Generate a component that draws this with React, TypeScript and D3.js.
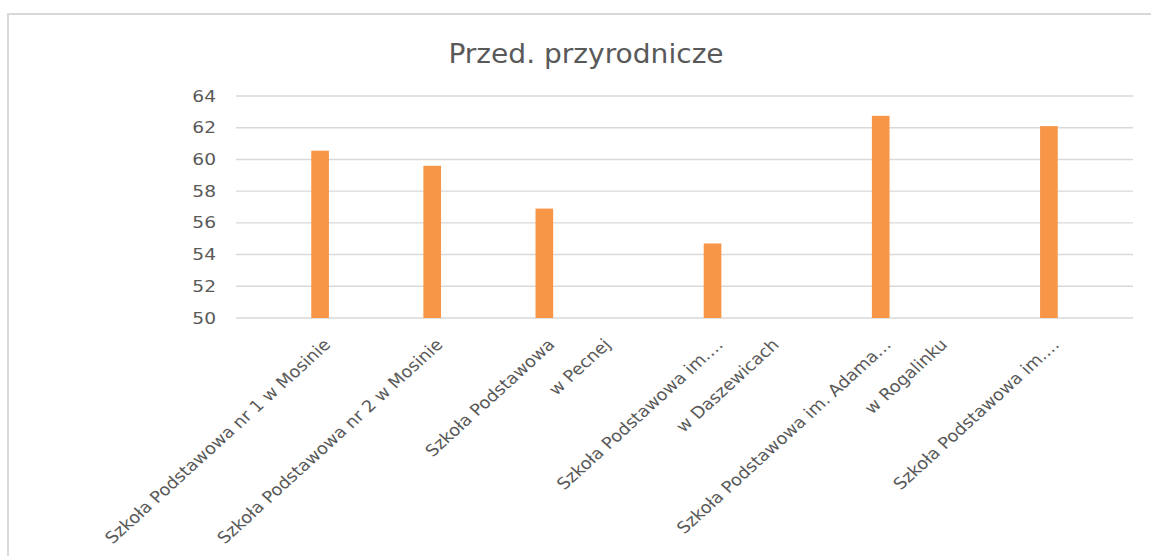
import React from "react";
import * as d3 from "d3";

// chart data
const chartTitle = "Przed. przyrodnicze";
const schools: string[][] = [
  ["Szkoła Podstawowa nr 1 w Mosinie"],
  ["Szkoła Podstawowa nr 2 w Mosinie"],
  ["Szkoła Podstawowa", "w Pecnej"],
  ["Szkoła Podstawowa im.…", "w Daszewicach"],
  ["Szkoła Podstawowa im. Adama…", "w Rogalinku"],
  ["Szkoła Podstawowa im.…"],
];
const scores = [60.55, 59.6, 56.9, 54.7, 62.75, 62.1];
const yTicks = [50, 52, 54, 56, 58, 60, 62, 64];

const width = 1151,
  height = 556,
  margin = { top: 96, right: 18, bottom: 238, left: 236 };

const textColor = "#595959";
const gridColor = "#d9d9d9";
const barColor = "#f79646";
const font = "'DejaVu Sans', sans-serif";
// the picture is a bit wider than tall, text looks stretched sideways
const stretch = 1.1;

const App: React.FC = () => {
  // each label line takes a slot, plus one slot of gap per category, 1.5 slot at the ends
  const steps = schools.map((s) => s.length + 1);
  const starts = steps.map((_, i) => 1.5 + d3.sum(steps.slice(0, i)));
  const totalSlots = starts[starts.length - 1] + 1.5;

  const x = d3
    .scaleLinear()
    .domain([0, totalSlots])
    .range([margin.left, width - margin.right]);

  const y = d3
    .scaleLinear()
    .domain([d3.min(yTicks)!, d3.max(yTicks)!])
    .range([height - margin.bottom, margin.top]);

  const slot = x(1) - x(0);
  const barW = slot * 0.315;
  const labelTop = height - margin.bottom + 19;

  return (
    <svg
      width={width}
      height={height}
      style={{ position: "absolute", left: 0, top: 0, background: "#fff" }}
    >
      <rect
        x={8}
        y={14}
        width={width + 20}
        height={height + 20}
        fill="#fff"
        stroke={gridColor}
        strokeWidth={2}
      />

      <text
        transform={`translate(586,63) scale(1.08,1)`}
        textAnchor="middle"
        fontFamily={font}
        fontSize={26}
        fill={textColor}
      >
        {chartTitle}
      </text>

      {/* grid + y axis labels */}
      {yTicks.map((t) => (
        <g key={t}>
          <line
            x1={margin.left}
            x2={width - margin.right}
            y1={y(t)}
            y2={y(t)}
            stroke={gridColor}
            strokeWidth={1.4}
          />
          <text
            transform={`translate(${margin.left - 20},${y(t)}) scale(1.2,1)`}
            dy="0.36em"
            textAnchor="end"
            fontFamily={font}
            fontSize={15.5}
            fill={textColor}
          >
            {t}
          </text>
        </g>
      ))}

      {/* bars */}
      {scores.map((v, i) => (
        <rect
          key={i}
          x={x(starts[i]) - barW / 2}
          y={y(v)}
          width={barW}
          height={y(yTicks[0]) - y(v)}
          fill={barColor}
        />
      ))}

      {/* rotated category labels */}
      {schools.map((lines, i) =>
        lines.map((line, j) => (
          <text
            key={`${i}-${j}`}
            transform={`translate(${x(starts[i]) + 2 + j * 56},${labelTop}) scale(${stretch},1) rotate(-45)`}
            dy="0.75em"
            textAnchor="end"
            fontFamily={font}
            fontSize={16.3}
            fill={textColor}
          >
            {line}
          </text>
        ))
      )}
    </svg>
  );
};

export default App;
